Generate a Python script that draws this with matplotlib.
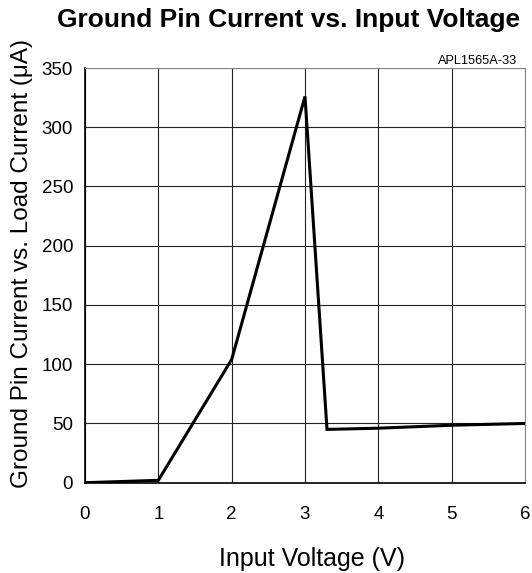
import matplotlib
matplotlib.use("Agg")
import matplotlib.pyplot as plt

plt.rcParams['font.family'] = ['Liberation Sans', 'DejaVu Sans']

# data
input_voltage = [0, 1, 2, 3, 3.3, 4, 5, 6]
ground_current = [0, 2, 104, 326, 45, 46, 48.5, 50]

x_ticks = [0, 1, 2, 3, 4, 5, 6]
y_ticks = [0, 50, 100, 150, 200, 250, 300, 350]

W, H = 532, 573
fig = plt.figure(figsize=(W / 100, H / 100), dpi=100)
ax = fig.add_axes([85 / W, 1 - 482.7 / H, 440 / W, 414.7 / H])

ax.plot(input_voltage, ground_current, color='black', linewidth=2.2, solid_joinstyle='miter')

ax.set_xlim(0, 6)
ax.set_ylim(0, 350)
ax.set_xticks(x_ticks)
ax.set_yticks(y_ticks)
ax.grid(True, color='#222222', linewidth=0.8)
ax.tick_params(length=0, labelsize=13.5)
ax.tick_params(axis='x', pad=16.5)
ax.tick_params(axis='y', pad=8.5)

for side in ['top', 'right']:
    ax.spines[side].set_color('#888888')
for side in ['left', 'bottom']:
    ax.spines[side].set_color('black')
    ax.spines[side].set_linewidth(1.2)

fig.text(312 / W, 1 - 566 / H, 'Input Voltage (V)', fontsize=18, ha='center', va='baseline')
fig.text(22 / W, 1 - 263.5 / H, 'Ground Pin Current vs. Load Current (\u03bcA)',
         fontsize=17.5, rotation=90, ha='center', va='center')
fig.text(289 / W, 1 - 27 / H, 'Ground Pin Current vs. Input Voltage',
         fontsize=19, fontweight='bold', ha='center', va='baseline')
fig.text(517 / W, 1 - 64 / H, 'APL1565A-33', fontsize=9.2, ha='right', va='baseline')

fig.savefig('out.png', dpi=100)
